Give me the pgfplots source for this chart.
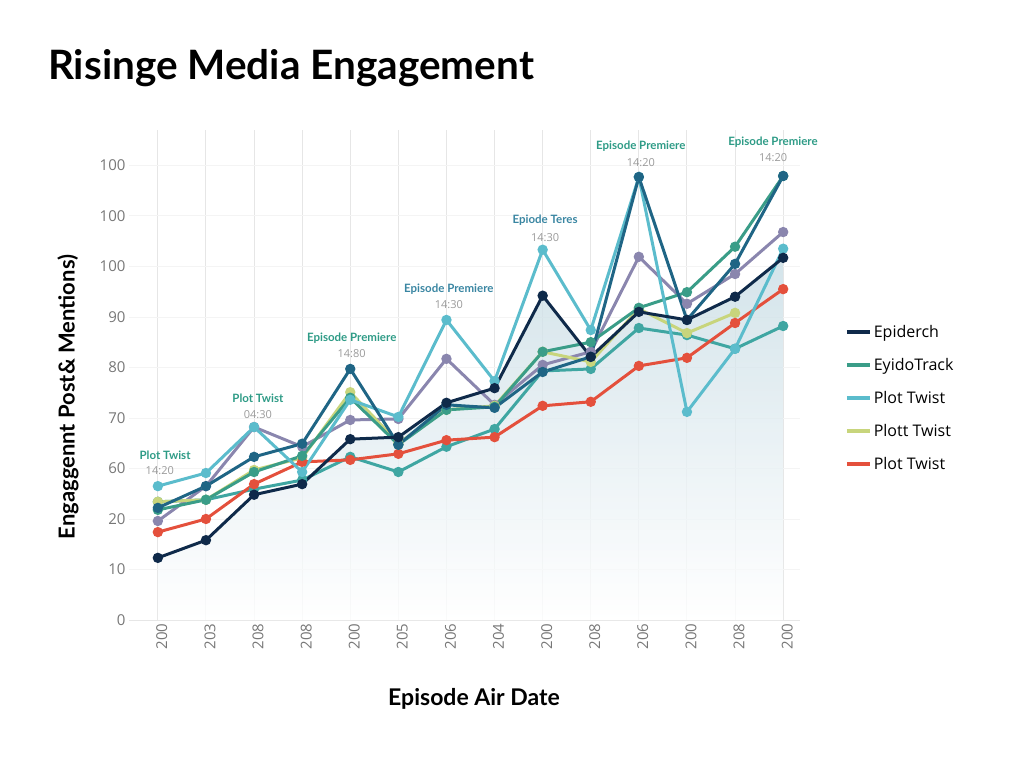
\documentclass[border=0pt]{standalone}
\usepackage{fontspec}
\setmainfont{Open Sans}
\newfontfamily\headfont{Lato}
\usepackage{pgfplots}
\pgfplotsset{compat=1.18}

\definecolor{cNavy}{HTML}{0F2A4A}
\definecolor{cDeep}{HTML}{1F6585}
\definecolor{cGreen}{HTML}{3A9D88}
\definecolor{cCyan}{HTML}{5BBCCC}
\definecolor{cYellow}{HTML}{C8D57C}
\definecolor{cRed}{HTML}{E4503C}
\definecolor{cPurple}{HTML}{8A86AE}
\definecolor{cTeal}{HTML}{3FA6A2}
\definecolor{cNoteA}{HTML}{2E9B86}
\definecolor{cNoteB}{HTML}{3A86A2}
\definecolor{cTime}{HTML}{9A9A9A}
\definecolor{cTick}{HTML}{777777}
\definecolor{cGrid}{HTML}{E6E6E6}
\definecolor{cShade}{HTML}{C9DDE5}

\pgfplotsset{
  series/.style={line width=3pt, mark=*, mark size=3.6pt, mark options={solid}, forget plot},
}
\tikzset{
  note/.style={font=\headfont\bfseries\fontsize{11.5}{12}\selectfont},
  stamp/.style={font=\fontsize{11}{12}\selectfont, text=cTime},
}

\begin{document}
\begin{tikzpicture}[x=1pt,y=1pt]
\path[use as bounding box] (-129,-148) rectangle (895,620);

\begin{axis}[
  at={(0,0)}, anchor=south west,
  scale only axis, width=671pt, height=490pt,
  xmin=-0.6, xmax=13.35, ymin=0, ymax=97,
  axis x line*=bottom, axis y line*=left,
  x axis line style={draw=cGrid, line width=1pt, -},
  y axis line style={draw=none},
  major tick length=0pt,
  xtick={0,...,13},
  xticklabels={200,203,208,208,200,205,206,204,200,208,206,200,208,200},
  ytick={0,10,...,90},
  yticklabels={0,10,20,60,70,80,90,100,100,100},
  xticklabel style={rotate=90, anchor=east, font=\fontsize{15}{15}\selectfont, text=cTick, yshift=-4pt},
  yticklabel style={font=\fontsize{15}{15}\selectfont, text=cTick},
  /pgf/number format/assume math mode=true,
  xmajorgrids, ymajorgrids,
  x grid style={cGrid, line width=1pt},
  y grid style={cGrid!45, line width=0.8pt},
  clip=false,
  legend style={at={(axis description cs:1.062,0.610)}, anchor=north west,
    draw=none, fill=none, font=\fontsize{16}{19}\selectfont,
    row sep=15.3pt, /tikz/every even column/.style={column sep=3pt}},
  legend cell align=left,
  legend image code/.code={\draw[#1, line width=4pt] (0pt,0pt) -- (23pt,0pt);},
]

% legend entries
\addlegendimage{cNavy}\addlegendentry{Epiderch}
\addlegendimage{cGreen}\addlegendentry{EyidoTrack}
\addlegendimage{cCyan}\addlegendentry{Plot Twist}
\addlegendimage{cYellow}\addlegendentry{Plott Twist}
\addlegendimage{cRed}\addlegendentry{Plot Twist}

% soft area under the leading series
\addplot[draw=none, top color=cShade, bottom color=white, opacity=0.8, forget plot]
  coordinates {(0,12.3) (1,15.8) (2,24.8) (3,26.9) (4,35.8) (5,36.2) (6,43.0)
  (7,45.9) (8,64.2) (9,52.1) (10,61.0) (11,59.4) (12,64.0) (13,71.7)} \closedcycle;

% teal
\addplot[series, color=cTeal] coordinates {
  (0,23.4) (1,23.8) (2,25.9) (3,27.7) (4,32.3) (5,29.3) (6,34.3)
  (7,37.8) (8,49.3) (9,49.7) (10,57.8) (11,56.4) (12,53.7) (13,58.2)};
% purple
\addplot[series, color=cPurple] coordinates {
  (0,19.6) (1,26.5) (2,38.2) (3,34.3) (4,39.6) (5,39.8) (6,51.7)
  (7,42.6) (8,50.5) (9,53.1) (10,71.9) (11,62.6) (12,68.5) (13,76.8)};
% yellow
\addplot[series, color=cYellow] coordinates {
  (0,23.4) (1,23.8) (2,29.7) (3,32.1) (4,45.1) (5,35.0) (6,41.6)
  (7,42.4) (8,53.1) (9,51.1) (10,61.6) (11,56.8) (12,60.8)};
% red
\addplot[series, color=cRed] coordinates {
  (0,17.4) (1,20.0) (2,26.9) (3,31.3) (4,31.7) (5,32.9) (6,35.6)
  (7,36.2) (8,42.4) (9,43.2) (10,50.3) (11,51.9) (12,58.8) (13,65.5)};
% green
\addplot[series, color=cGreen] coordinates {
  (0,21.8) (1,23.8) (2,29.3) (3,32.5) (4,44.0) (5,34.7) (6,41.6)
  (7,42.2) (8,53.1) (9,55.0) (10,61.8) (11,64.9) (12,73.9) (13,87.9)};
% cyan
\addplot[series, color=cCyan] coordinates {
  (0,26.5) (1,29.1) (2,38.2) (3,29.3) (4,43.6) (5,40.2) (6,59.4)
  (7,47.3) (8,73.3) (9,57.4) (10,87.7) (11,41.2) (12,53.7) (13,73.5)};
% deep teal
\addplot[series, color=cDeep] coordinates {
  (0,22.2) (1,26.5) (2,32.3) (3,34.9) (4,49.7) (5,34.7) (6,42.6)
  (7,42.0) (8,49.1) (9,52.1) (10,87.7) (11,59.4) (12,70.5) (13,87.9)};
% navy
\addplot[series, color=cNavy] coordinates {
  (0,12.3) (1,15.8) (2,24.8) (3,26.9) (4,35.8) (5,36.2) (6,43.0)
  (7,45.9) (8,64.2) (9,52.1) (10,61.0) (11,59.4) (12,64.0) (13,71.7)};

% event notes
\node[note, text=cNoteA] at (axis cs:0.15,32.7) {Plot Twist};
\node[stamp] at (axis cs:0.04,29.5) {14:20};
\node[note, text=cNoteA] at (axis cs:2.08,43.8) {Plot Twist};
\node[stamp] at (axis cs:2.08,40.6) {04:30};
\node[note, text=cNoteA] at (axis cs:4.03,55.8) {Episode Premiere};
\node[stamp] at (axis cs:4.03,52.7) {14:80};
\node[note, text=cNoteB] at (axis cs:6.05,65.5) {Episode Premiere};
\node[stamp] at (axis cs:6.05,62.4) {14:30};
\node[note, text=cNoteB] at (axis cs:8.05,79.2) {Epiode Teres};
\node[stamp] at (axis cs:8.05,75.8) {14:30};
\node[note, text=cNoteA] at (axis cs:10.04,93.7) {Episode Premiere};
\node[stamp] at (axis cs:10.04,90.5) {14:20};
\node[note, text=cNoteA] at (axis cs:12.79,94.6) {Episode Premiere};
\node[stamp] at (axis cs:12.79,91.5) {14:20};
\end{axis}

% titles
\node[anchor=base west, inner sep=0pt, font=\headfont\bfseries\fontsize{40.5}{46}\selectfont] at (-81,540) {Risinge Media Engagement};
\node[rotate=90, font=\headfont\bfseries\fontsize{22}{26}\selectfont] at (-61,223) {Engaggennt Post\& Mentions)};
\node[font=\headfont\bfseries\fontsize{23}{27}\selectfont] at (345,-79) {Episode Air Date};
\end{tikzpicture}
\end{document}
